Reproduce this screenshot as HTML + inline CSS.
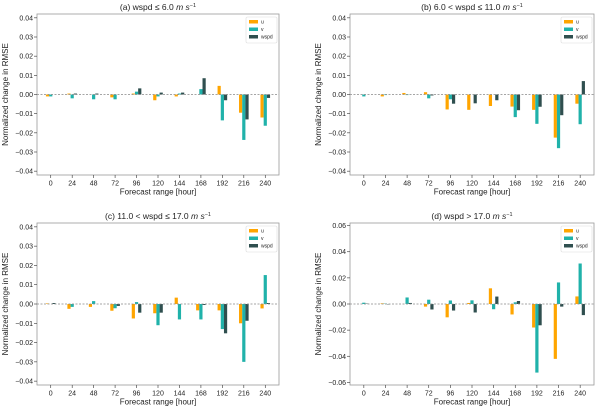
<!DOCTYPE html>
<html><head><meta charset="utf-8"><style>
html,body{margin:0;padding:0;background:#fff;}
svg{display:block;font-family:"Liberation Sans","DejaVu Sans",sans-serif;}
</style></head><body>
<svg id="c" width="600" height="408"></svg>
<script>
const categories=[0,24,48,72,96,120,144,168,192,216,240];
const seriesNames=["u","v","wspd"];
const aU=[-0.001,0.0005,0,-0.0015,0.0005,-0.003,-0.001,0,0.0045,-0.0095,-0.012];
const aV=[-0.001,-0.002,-0.0025,-0.0025,0.0015,-0.001,0.0005,0.0028,-0.0135,-0.0237,-0.0163];
const aW=[0,0.0005,0.0005,0,0.0032,0.001,0.001,0.0085,-0.003,-0.013,-0.0018];
const bU=[0,-0.001,0.0008,0.0012,-0.0078,-0.008,-0.006,-0.0063,-0.008,-0.0225,-0.0048];
const bV=[-0.001,-0.0003,-0.0003,-0.002,-0.0025,0,0,-0.0118,-0.0153,-0.028,-0.0155];
const bW=[0,0,0,-0.0005,-0.0048,-0.0046,-0.003,-0.0082,-0.0064,-0.0108,0.007];
const cU=[0.0003,-0.0025,-0.0015,-0.0035,-0.0075,-0.0048,0.0033,-0.0033,-0.0033,-0.01,-0.0023];
const cV=[0,-0.0015,0.0015,-0.0022,0.001,-0.011,-0.008,-0.008,-0.013,-0.03,0.015];
const cW=[0.0005,0,0,-0.001,-0.0045,-0.0045,0,-0.0005,-0.0152,-0.0087,0.0005];
const dU=[0,0.0005,0,-0.002,-0.0102,0.0008,0.012,-0.008,-0.018,-0.042,0.0058];
const dV=[0.001,0.0003,0.005,0.0033,0.0027,0.0028,-0.004,0.0013,-0.0525,0.0165,0.031];
const dW=[0.0003,-0.0003,0.0008,-0.0042,-0.005,-0.0065,0.0057,0.0023,-0.0163,-0.002,-0.0085];
const ticksSmall=[0.04,0.03,0.02,0.01,0,-0.01,-0.02,-0.03,-0.04];
const ticksLarge=[0.06,0.04,0.02,0,-0.02,-0.04,-0.06];
const titles=["(a) wspd ≤ 6.0 ","(b) 6.0 < wspd ≤ 11.0 ","(c) 11.0 < wspd ≤ 17.0 ","(d) wspd > 17.0 "];
const colors=["#FFA500","#20B2AA","#2F4F4F"];
const NS="http://www.w3.org/2000/svg";
const svg=document.getElementById("c");
function mk(t,a,p){const e=document.createElementNS(NS,t);for(const k in a)e.setAttribute(k,a[k]);(p||svg).appendChild(e);return e;}
function fmt(v){if(v===0)return "0.00";const s=Math.abs(v).toFixed(2);return (v<0?"\u2212":"")+s;}
const panels=[
 {x0:37,x1:279,y0:14,y1:175,lim:0.042,ticks:ticksSmall,data:[aU,aV,aW],name:"panel-a"},
 {x0:350,x1:594,y0:14,y1:175,lim:0.042,ticks:ticksSmall,data:[bU,bV,bW],name:"panel-b"},
 {x0:37,x1:279,y0:223,y1:385,lim:0.042,ticks:ticksSmall,data:[cU,cV,cW],name:"panel-c"},
 {x0:350,x1:594,y0:223,y1:385,lim:0.062,ticks:ticksLarge,data:[dU,dV,dW],name:"panel-d"}];
panels.forEach((p,pi)=>{
 const g=mk("g",{});
 
 
 const n=categories.length;
 const xs=i=>p.x0+(p.x1-p.x0)*(i+0.64)/(n-1+1.28);
 const ys=v=>p.y0+(p.y1-p.y0)*(p.lim-v)/(2*p.lim);
 const bw=3.2;
 p.data.forEach((arr,si)=>{arr.forEach((v,i)=>{
   const cx=xs(i)+(si-1)*bw;const y=ys(Math.max(v,0)),h=Math.abs(ys(v)-ys(0));
   const r=mk("rect",{x:cx-bw/2,y:y,width:bw,height:Math.max(h,0.01),fill:colors[si]},g);
   
   
 });});
 mk("line",{x1:p.x0,x2:p.x1,y1:ys(0),y2:ys(0),stroke:"#888","stroke-width":0.8,"stroke-dasharray":"2,1.5"},g);
 mk("rect",{x:p.x0,y:p.y0,width:p.x1-p.x0,height:p.y1-p.y0,fill:"none",stroke:"#999","stroke-width":0.8},g);
 p.ticks.forEach(t=>{const y=ys(t);mk("line",{x1:p.x0-3,x2:p.x0,y1:y,y2:y,stroke:"#333","stroke-width":0.6},g);
   const tx=mk("text",{x:p.x0-4,y:y+2.5,"text-anchor":"end","font-size":7,fill:"#222"},g);tx.textContent=fmt(t);
   });
 categories.forEach((c,i)=>{const x=xs(i);mk("line",{x1:x,x2:x,y1:p.y1,y2:p.y1+3,stroke:"#333","stroke-width":0.6},g);
   const tx=mk("text",{x:x,y:p.y1+10.5,"text-anchor":"middle","font-size":7,fill:"#222"},g);tx.textContent=c;
   });
 const xt=mk("text",{x:(p.x0+p.x1)/2,y:p.y1+19.5,"text-anchor":"middle","font-size":8,fill:"#222"},g);xt.textContent="Forecast range [hour]";
 
 const yc=(p.y0+p.y1)/2,yx=p.x0-29;
 const yt=mk("text",{x:yx,y:yc,"text-anchor":"middle","font-size":8,fill:"#222",transform:`rotate(-90 ${yx} ${yc})`},g);yt.textContent="Normalized change in RMSE";
 
 const tt=mk("text",{x:(p.x0+p.x1)/2,y:p.y0-4,"text-anchor":"middle","font-size":8.5,fill:"#222"},g);
 tt.textContent=titles[pi];
 const ti=mk("tspan",{"font-style":"italic"},tt);ti.textContent="m s";
 const ts=mk("tspan",{"font-size":5.5,dy:-3},tt);ts.textContent="\u22121";
 
 const lg=mk("g",{},g);
 
 const lx=p.x1-33,ly=p.y0+3;
 mk("rect",{x:lx,y:ly,width:31,height:26,fill:"#fff",stroke:"#ddd","stroke-width":0.6,rx:1.5},lg);
 seriesNames.forEach((s,si)=>{
  const e=mk("g",{},lg);
  
  mk("rect",{x:lx+3,y:ly+3+si*7.5,width:9,height:3.5,fill:colors[si]},e);
  const t=mk("text",{x:lx+15,y:ly+6.6+si*7.5,"font-size":5,fill:"#222"},e);t.textContent=s;
 });
});
</script>
</body></html>
